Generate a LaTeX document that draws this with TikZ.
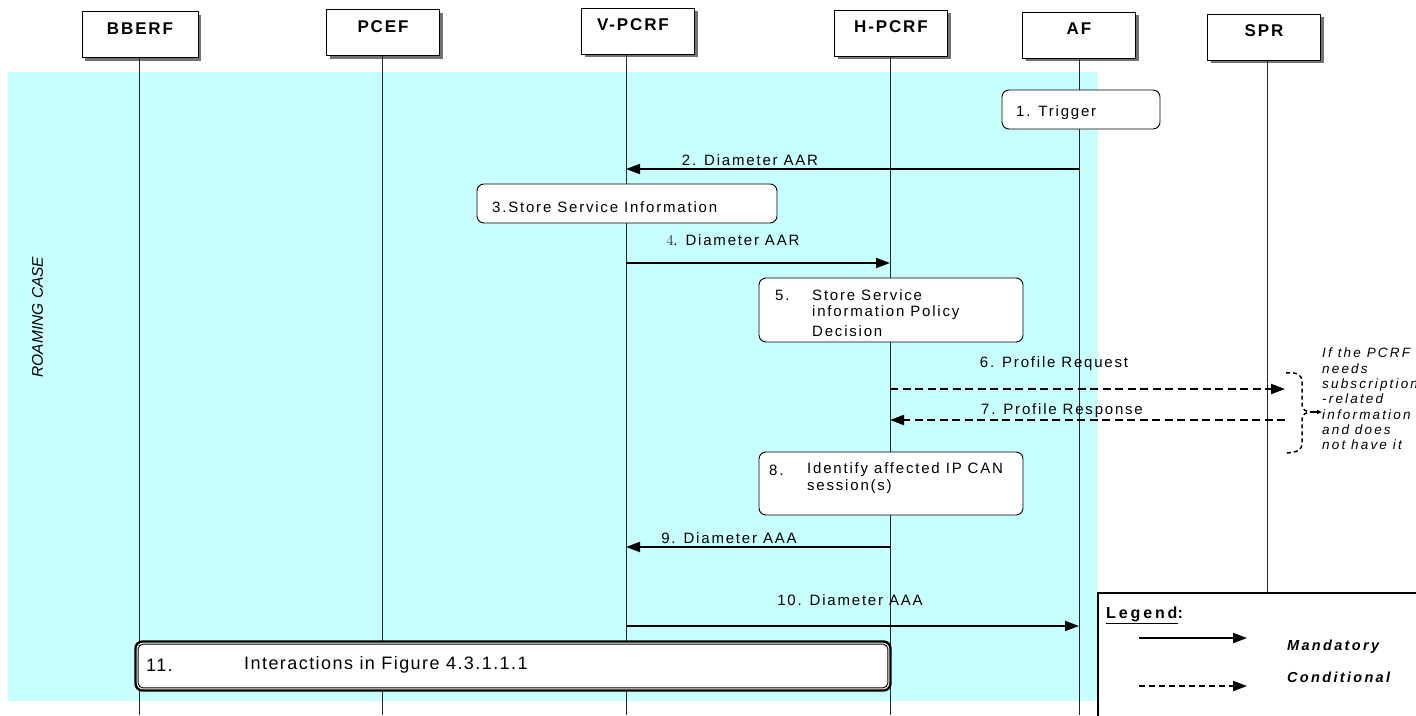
\documentclass[tikz,border=0pt]{standalone}
\usepackage{fontspec}
\setmainfont{Liberation Sans}
\setsansfont{Liberation Sans}
\newfontfamily\lmr{Latin Modern Roman}
\usetikzlibrary{arrows.meta,shadows}
\definecolor{band}{RGB}{200,255,255}
\begin{document}
\begin{tikzpicture}[x=1pt,y=-1pt,
  hdr/.style={draw, fill=white, line width=1pt, minimum width=113pt, minimum height=46pt, inner sep=0pt,
    drop shadow={shadow xshift=3pt,shadow yshift=-3pt,fill=black!55,opacity=1}},
  hdrtxt/.style={font=\fontsize{17}{19}\selectfont\bfseries\addfontfeature{LetterSpace=11}, inner sep=0pt},
  life/.style={line width=0.9pt, draw=black!85},
  msg/.style={line width=2pt, -{Triangle[length=14pt,width=10pt]}},
  cond/.style={msg, dash pattern=on 8pt off 4.5pt},
  lbl/.style={font=\fontsize{15}{17}\selectfont\addfontfeature{LetterSpace=12}, inner sep=0pt},
  actbox/.style={draw, fill=white, rounded corners=7pt, line width=0.9pt, inner sep=0pt},
  note/.style={font=\fontsize{13.5}{15.3}\selectfont\itshape\addfontfeature{LetterSpace=16}, inner sep=0pt, align=left},
]
\useasboundingbox (0,0) rectangle (1416,715);
\fill[white] (0,0) rectangle (1416,715);
% roaming band
\fill[band] (8,72) rectangle (1098,701);
\node[rotate=90, font=\fontsize{15.5}{17}\selectfont\itshape] (roam) at (37.5,317) {ROAMING CASE};

% header boxes
\node[hdr, minimum width=116pt] (bberf) at (140,34.5) {};
\node[hdr] (pcef) at (383,32.5) {};
\node[hdr] (vpcrf) at (638,31) {};
\node[hdr] (hpcrf) at (891,33) {};
\node[hdr] (af) at (1079,35) {};
\node[hdr] (spr) at (1264,37) {};
\node[hdrtxt] at ([yshift=-17.5pt]bberf.north) {BBERF};
\node[hdrtxt] at ([yshift=-17.5pt]pcef.north) {PCEF};
\node[hdrtxt] at ([xshift=-5pt,yshift=-17.5pt]vpcrf.north) {V-PCRF};
\node[hdrtxt] at ([yshift=-17.5pt]hpcrf.north) {H-PCRF};
\node[hdrtxt] at ([yshift=-17.5pt]af.north) {AF};
\node[hdrtxt] at ([yshift=-17.5pt]spr.north) {SPR};

% legend box
\node[draw, line width=2pt, fill=white, anchor=north west, minimum width=340pt, minimum height=140pt] (legend) at (1097,592) {};

% lifelines
\coordinate (bberfL) at (139,0);
\coordinate (pcefL) at (382,0);
\coordinate (vpcrfL) at (626,0);
\coordinate (hpcrfL) at (890,0);
\coordinate (afL) at (1079,0);
\coordinate (sprL) at (1267,0);
\draw[life] (bberfL |- bberf.south) -- (bberfL |- 0,715);
\draw[life] (pcefL |- pcef.south) -- (pcefL |- 0,715);
\draw[life] (vpcrfL |- vpcrf.south) -- (vpcrfL |- 0,715);
\draw[life] (hpcrfL |- hpcrf.south) -- (hpcrfL |- 0,715);
\draw[life] (afL |- af.south) -- (afL |- 0,715);
\draw[life] (sprL |- spr.south) -- (sprL |- legend.north);

% 1 trigger
\node[actbox, minimum width=158pt, minimum height=39pt] (b1) at (1081,109.5) {};
\node[lbl, anchor=west] at (1016,113) {1. Trigger};

% 2
\draw[msg] (afL |- 0,169) -- (vpcrfL |- 0,169);
\node[lbl] at (750,160) {2. Diameter AAR};

% 3
\node[actbox, minimum width=300pt, minimum height=39pt] (b3) at (627,203.5) {};
\node[lbl, anchor=west] at (492,207) {3.Store Service Information};

% 4
\draw[msg] (vpcrfL |- 0,263) -- (hpcrfL |- 0,263);
\node[lbl] at (733,240) {{\lmr 4}. Diameter AAR};

% 5
\node[actbox, minimum width=264pt, minimum height=64pt] (b5) at (891,310) {};
\node[lbl, anchor=west] at (775,295) {5.};
\node[lbl, anchor=west] at (812,295) {Store Service};
\node[lbl, anchor=west] at (812,313) {information Policy};
\node[lbl, anchor=west] at (812,331) {Decision};

% 6 / 7
\coordinate (p6) at (1285,389);
\coordinate (p7) at (1285,420);
\draw[cond] (hpcrfL |- p6) -- (p6);
\node[lbl] at (1054,364) {6. Profile Request};
\draw[cond] (p7) -- (hpcrfL |- p7);
\node[lbl] at (1062,411) {7. Profile Response};

% brace
\draw[line width=1.5pt, dash pattern=on 4pt off 3pt]
  (1286,373) .. controls (1298,372) and (1302,375) .. (1302,382)
  -- (1302,404) .. controls (1302,410) and (1306,412) .. (1312,412)
  .. controls (1306,412) and (1302,414) .. (1302,420)
  -- (1302,443) .. controls (1302,450) and (1298,452) .. (1287,453);
\draw[line width=1.2pt, -{Triangle[length=5pt,width=4pt]}] (1310,412) -- (1322,412);
\node[note, anchor=north west] (cnote) at (1322,348) {If the PCRF\\needs\\subscription\\-related\\information\\and does\\not have it};

% 8
\node[actbox, minimum width=264pt, minimum height=63pt] (b8) at (891,483.5) {};
\node[lbl, anchor=west] at (769,470) {8.};
\node[lbl, anchor=west] at (807,470) {Identify affected IP CAN};
\node[lbl, anchor=west] at (807,487) {session(s)};

% 9
\draw[msg] (hpcrfL |- 0,547) -- (vpcrfL |- 0,547);
\node[lbl] at (729,538) {9. Diameter AAA};

% 10
\draw[msg] (vpcrfL |- 0,626) -- (afL |- 0,626);
\node[lbl] at (850,600) {10. Diameter AAA};

% 11
\node[draw, fill=white, rounded corners=7pt, line width=2.4pt, minimum width=755pt, minimum height=49pt] (b11) at (513,666) {};
\draw[line width=0.9pt, rounded corners=5pt] ([xshift=3.8pt,yshift=-3.8pt]b11.north west) rectangle ([xshift=-3.8pt,yshift=3.8pt]b11.south east);
\node[anchor=west, inner sep=0pt, font=\fontsize{18}{20}\selectfont\addfontfeature{LetterSpace=8}] at (146,665) {11.};
\node[anchor=west, inner sep=0pt, font=\fontsize{18}{20}\selectfont\addfontfeature{LetterSpace=8}] at (244,665) {Interactions in Figure 4.3.1.1.1};

% legend contents
\node[anchor=west, inner sep=0pt, font=\fontsize{16}{18}\selectfont\bfseries\addfontfeature{LetterSpace=18}] (legt) at (1106,615) {\underline{Legend}:};
\coordinate (lm1) at (1139,638);
\coordinate (lm2) at (1247,638);
\coordinate (lc1) at (1139,686);
\coordinate (lc2) at (1247,686);
\draw[msg] (lm1) -- (lm2);
\draw[cond, dash pattern=on 6pt off 4pt] (lc1) -- (lc2);
\node[anchor=west, inner sep=0pt, font=\fontsize{14.5}{16}\selectfont\bfseries\itshape\addfontfeature{LetterSpace=16}] at (1287,647) {Mandatory};
\node[anchor=west, inner sep=0pt, font=\fontsize{14.5}{16}\selectfont\bfseries\itshape\addfontfeature{LetterSpace=16}] at (1287,677) {Conditional};
\end{tikzpicture}
\end{document}
